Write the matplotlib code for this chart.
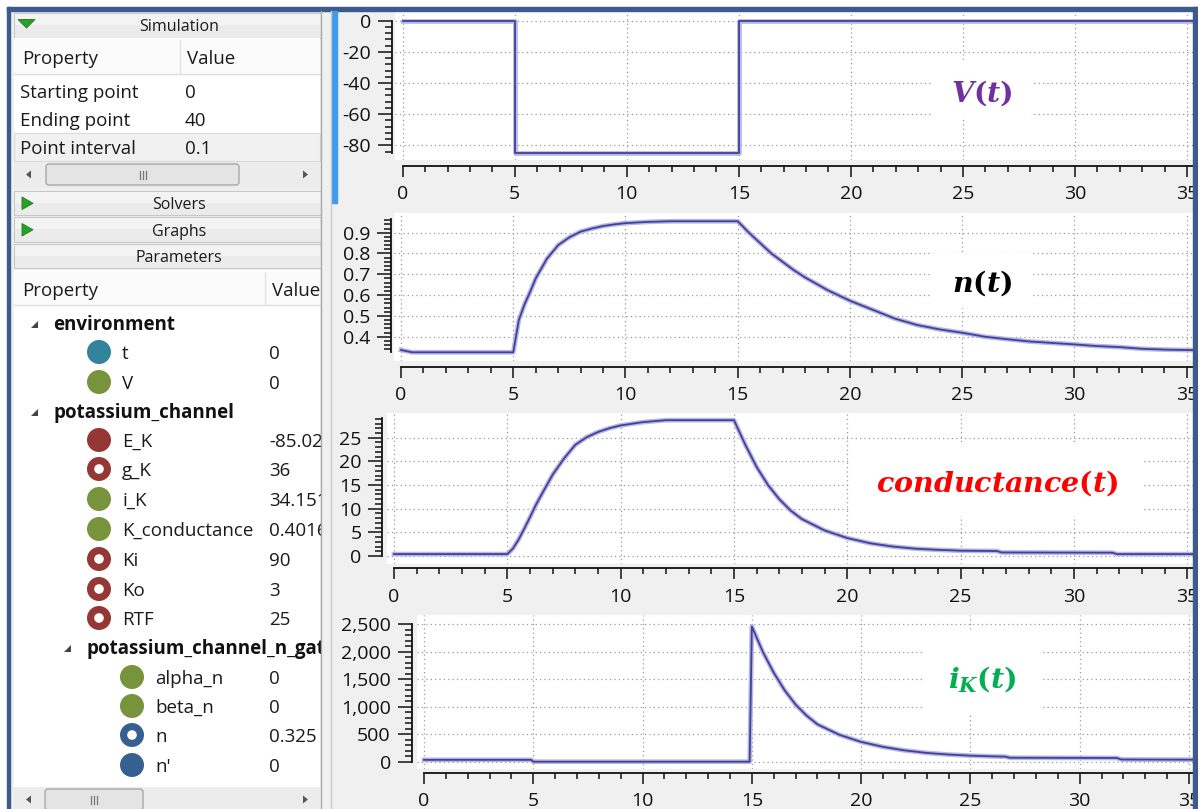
import numpy as np
import matplotlib.pyplot as plt
from matplotlib.patches import Rectangle, Circle, Polygon, FancyBboxPatch
from matplotlib.ticker import FixedLocator, StrMethodFormatter

plt.rcParams['font.family'] = ['Open Sans', 'DejaVu Sans']
plt.rcParams['axes.unicode_minus'] = False
plt.rcParams['mathtext.fontset'] = 'custom'
plt.rcParams['mathtext.it'] = 'DejaVu Serif:italic:bold'
plt.rcParams['mathtext.rm'] = 'DejaVu Serif:bold'
plt.rcParams['mathtext.bf'] = 'DejaVu Serif:bold'

W, H = 1198, 809  # picture size in pixels

# ---- left panel contents ----
sim_props = ["Starting point", "Ending point", "Point interval"]
sim_values = ["0", "40", "0.1"]

groups = ["environment", "potassium_channel", "potassium_channel_n_gate"]
param_names = ["t", "V",
               "E_K", "g_K", "i_K", "K_conductance", "Ki", "Ko", "RTF",
               "alpha_n", "beta_n", "n", "n'"]
param_values = ["0", "0",
                "-85.02", "36", "34.151", "0.4016", "90", "3", "25",
                "0", "0", "0.325", "0"]
param_group = [0, 0, 1, 1, 1, 1, 1, 1, 1, 2, 2, 2, 2]
param_colors = ["#31849b", "#77933c",
                "#953735", "#953735", "#77933c", "#77933c", "#953735", "#953735", "#953735",
                "#77933c", "#77933c", "#376092", "#376092"]
param_ring = [False, False,
              False, True, False, False, True, True, True,
              False, False, True, False]

# ---- simulated traces ----
t_v = [0, 5, 5, 15, 15, 40]
v_vals = [0, 0, -85, -85, 0, 0]

t_n = [0, 0.5, 5, 5.25, 5.5, 5.75, 6, 6.5, 7, 7.5, 8, 8.5, 9, 9.5, 10, 11, 12, 15,
       15.5, 16, 16.5, 17, 17.5, 18, 19, 20, 21, 22, 23, 24, 25, 26, 27, 28, 29,
       30, 31, 32, 33, 34, 35, 36]
n_vals = [0.336, 0.325, 0.325, 0.48, 0.555, 0.615, 0.68, 0.775, 0.84, 0.878, 0.905,
          0.92, 0.932, 0.94, 0.946, 0.952, 0.955, 0.955,
          0.90, 0.85, 0.80, 0.76, 0.72, 0.685, 0.624, 0.573, 0.53, 0.487, 0.456,
          0.435, 0.419, 0.40, 0.388, 0.377, 0.37, 0.363, 0.355, 0.35, 0.342, 0.338,
          0.336, 0.335]

t_g = [0, 5, 5.25, 5.5, 5.75, 6, 6.25, 6.5, 7, 7.5, 8, 8.5, 9, 9.5, 10, 11, 12, 15,
       15.5, 16, 16.5, 17, 17.5, 18, 19, 20, 21, 22, 23, 24, 25, 26.6, 26.8, 31.7,
       31.9, 36]
g_vals = [0.4, 0.4, 1.6, 3.5, 5.8, 8.2, 10.7, 12.9, 17.2, 20.6, 23.5, 25.1, 26.2,
          27.0, 27.6, 28.3, 28.7, 28.7,
          23.5, 18.8, 15.0, 12.0, 9.6, 7.8, 5.4, 3.8, 2.7, 2.0, 1.55, 1.3, 1.12,
          1.05, 0.75, 0.7, 0.4, 0.4]

t_i = [0, 4.9, 5, 14.9, 15, 15.5, 16, 16.5, 17, 17.5, 18, 19, 20, 21, 22, 23, 24,
       25, 26, 26.6, 26.8, 31.7, 31.9, 36]
i_vals = [34, 34, 0, 0, 2460, 2000, 1620, 1300, 1040, 840, 680, 490, 360, 270, 205,
          160, 130, 110, 97, 92, 72, 68, 40, 36]

fig = plt.figure(figsize=(W / 100, H / 100), dpi=100)
fig.patch.set_facecolor('#f0f0f0')


def px_rect(x0, y0, x1, y1):
    return [x0 / W, 1 - y1 / H, (x1 - x0) / W, (y1 - y0) / H]


def ticks_in(lo, hi, step):
    # tick positions limited to the scale range, like the Qwt scale does
    first = np.ceil(lo / step - 1e-9) * step
    return np.round(np.arange(first, hi + step * 1e-6, step), 10) + 0.0


def add_plot(box, tx, ty, yaxis_px, xaxis_px, ybounds, t, y, ymajor, yminor, fmt):
    x0, y0, x1, y1 = box
    ax = fig.add_axes(px_rect(*box))
    ax.set_facecolor('white')
    sx = (tx[1] - tx[0]) / 35
    ax.set_xlim((x0 - tx[0]) / sx, (x1 - tx[0]) / sx)
    (va, pa), (vb, pb) = ty
    sy = (pb - pa) / (vb - va)
    ax.set_ylim(va + (y1 - pa) / sy, va + (y0 - pa) / sy)

    for s in ['top', 'right']:
        ax.spines[s].set_visible(False)
    ax.spines['left'].set_position(('outward', (x0 - yaxis_px) * 0.72))
    ax.spines['bottom'].set_position(('outward', (xaxis_px - y1) * 0.72))
    ax.spines['left'].set_bounds(*ybounds)
    ax.spines['bottom'].set_bounds(0, ax.get_xlim()[1])
    for s in ['left', 'bottom']:
        ax.spines[s].set_linewidth(1.3)
        ax.spines[s].set_color('#111111')

    xr = ax.get_xlim()[1]
    ax.xaxis.set_major_locator(FixedLocator(ticks_in(0, xr, 5)))
    ax.xaxis.set_minor_locator(FixedLocator(ticks_in(0, xr, 1)))
    ax.yaxis.set_major_locator(FixedLocator(ticks_in(ybounds[0], ybounds[1], ymajor)))
    ax.yaxis.set_minor_locator(FixedLocator(ticks_in(ybounds[0], ybounds[1], yminor)))
    ax.xaxis.set_major_formatter(StrMethodFormatter('{x:.0f}'))
    ax.yaxis.set_major_formatter(StrMethodFormatter(fmt))
    ax.tick_params(axis='y', which='major', length=10, width=1.1, pad=5,
                   labelsize=14, labelcolor='#111111', color='#111111')
    ax.tick_params(axis='y', which='minor', length=5, width=1.1, color='#111111')
    ax.tick_params(axis='x', which='major', length=8, width=1.1, pad=6,
                   labelsize=14, labelcolor='#111111', color='#111111')
    ax.tick_params(axis='x', which='minor', length=4, width=1.1, color='#111111')
    ax.grid(True, which='major', color='#9a9a9a', linestyle=(0, (1, 2.5)), linewidth=0.9)

    ax.plot(t, y, color='#b8b8e0', lw=3.4, solid_joinstyle='round', zorder=3)
    ax.plot(t, y, color='#40409e', lw=1.3, solid_joinstyle='round', zorder=4)
    return ax


add_plot((395, 12, 1193, 160), (402.7, 1187), ((0, 20.7), (-80, 145.3)),
         391.7, 166, (-85, 0), t_v, v_vals, 20, 4, '{x:.0f}')
add_plot((394, 212.7, 1193, 360.7), (401, 1186.7), ((0.9, 232.7), (0.4, 336.7)),
         391, 366.7, (0.325, 0.965), t_n, n_vals, 0.1, 0.02, '{x:.1f}')
add_plot((387.3, 412.7, 1193, 564), (394, 1187.3), ((25, 437.7), (0, 556)),
         382.3, 568.3, (0, 29.1), t_g, g_vals, 5, 1, '{x:.0f}')
add_plot((417.3, 615, 1193, 769), (424, 1189), ((2500, 624.3), (0, 761.7)),
         411.7, 772.7, (0, 2510), t_i, i_vals, 500, 100, '{x:,.0f}')

# ---- left panel (pixel coordinates) ----
pnl = fig.add_axes(px_rect(10, 11, 321, 809), zorder=5)
pnl.set_xlim(10, 321)
pnl.set_ylim(809, 11)
pnl.axis('off')
pnl.add_patch(Rectangle((10, 11), 311, 798, color='#f0f0f0', zorder=0))

FS = 13.5
DY = 2  # text centre offset


def header(y0, y1, label, arrow=None):
    pnl.add_patch(Rectangle((13.5, y0), 307, y1 - y0, fc='#ebebeb', ec='#c8c8c8', lw=0.8))
    pnl.add_patch(Rectangle((14.5, y0 + 1), 305, (y1 - y0) * 0.45, fc='#f3f3f3', ec='none'))
    pnl.text(179, (y0 + y1) / 2 + DY, label, ha='center', va='center', fontsize=11.5,
             color='#1a1a1a', clip_on=True)
    if arrow == 'down':
        pnl.add_patch(Polygon([(18, y0 + 7), (35, y0 + 7), (26.5, y0 + 15.5)],
                              fc='#2aa02a', ec='#1b7a1b', lw=0.6))
    elif arrow == 'right':
        pnl.add_patch(Polygon([(22, y0 + 6.5), (22, y0 + 19), (33, y0 + 12.8)],
                              fc='#2aa02a', ec='#1b7a1b', lw=0.6))


def table_head(y0, y1, xsep, xval):
    pnl.add_patch(Rectangle((14, y0), 306, y1 - y0, fc='#fbfbfb', ec='none'))
    pnl.plot([14, 320], [y1, y1], color='#dedede', lw=1)
    pnl.plot([xsep, xsep], [y0 + 1, y1 - 1], color='#e3e3e3', lw=1)
    ym = (y0 + y1) / 2 + DY
    pnl.text(22, ym, "Property", va='center', fontsize=FS, color='#1a1a1a', clip_on=True)
    pnl.text(xval, ym, "Value", va='center', fontsize=FS, color='#1a1a1a', clip_on=True)


def scrollbar(y0, y1, th0, th1):
    pnl.add_patch(Rectangle((14, y0), 306, y1 - y0, fc='#ececec', ec='none'))
    ym = y0 + 12.5
    pnl.add_patch(Polygon([(26, ym), (31, ym - 4), (31, ym + 4)], fc='#555555', ec='none'))
    pnl.add_patch(Polygon([(303, ym - 4), (303, ym + 4), (308, ym)], fc='#555555', ec='none'))
    pnl.add_patch(FancyBboxPatch((th0, y0 + 2), th1 - th0, 21,
                                 boxstyle='round,pad=0,rounding_size=3',
                                 fc='#e4e4e4', ec='#a2a2a2', lw=0.9))
    gx = (th0 + th1) / 2
    for dx in (-3, 0, 3):
        pnl.plot([gx + dx, gx + dx], [ym - 4, ym + 4], color='#777777', lw=0.9)


# Simulation section
header(12.5, 37.5, "Simulation", 'down')
pnl.add_patch(Rectangle((14, 38), 306, 124, fc='white', ec='none'))
table_head(39, 74, 180, 187)
pnl.add_patch(Rectangle((14, 133), 306, 28, fc='#f1f1f1', ec='#dadada', lw=0.8))
for k, (name, val) in enumerate(zip(sim_props, sim_values)):
    yy = 91 + 28 * k + DY
    pnl.text(20, yy, name, va='center', fontsize=FS, color='#1a1a1a', clip_on=True)
    pnl.text(185, yy, val, va='center', fontsize=FS, color='#1a1a1a', clip_on=True)
scrollbar(162, 188, 46, 239)

header(190.5, 215, "Solvers", 'right')
header(217, 242, "Graphs", 'right')
header(243.5, 268, "Parameters")

# Parameters tree
pnl.add_patch(Rectangle((14, 270), 306, 517, fc='white', ec='none'))
table_head(272, 305, 265, 272)


def expander(x, y):
    pnl.add_patch(Polygon([(x - 3.5, y + 3.5), (x + 3.5, y + 3.5), (x + 3.5, y - 3.5)],
                          fc='#444444', ec='none'))


group_y = [323, 411, 647]
group_x = [53, 53, 86]
for g, name in enumerate(groups):
    expander(group_x[g] - 19, group_y[g] + 1)
    pnl.text(group_x[g], group_y[g] + DY, name, va='center', fontsize=FS, fontweight='bold',
             color='#111111', clip_on=True)

row_y = [352, 382, 440, 469, 499, 529, 559, 589, 618, 677, 706, 735, 765]
for k, name in enumerate(param_names):
    yy = row_y[k]
    cx = 99 if param_group[k] < 2 else 132
    pnl.add_patch(Circle((cx, yy), 12, fc=param_colors[k], ec='none'))
    if param_ring[k]:
        pnl.add_patch(Circle((cx, yy), 4.8, fc='white', ec='none'))
    pnl.text(cx + 23, yy + DY, name, va='center', fontsize=FS, color='#1a1a1a', clip_on=True)
    pnl.text(269, yy + DY, param_values[k], va='center', fontsize=FS, color='#1a1a1a',
             clip_on=True)

scrollbar(787, 812, 45, 143)

# ---- overlay: frame, splitter, equation labels ----
ui = fig.add_axes([0, 0, 1, 1], zorder=10)
ui.set_xlim(0, W)
ui.set_ylim(H, 0)
ui.axis('off')
ui.add_patch(Rectangle((0, 0), W, 7, color='white'))
ui.add_patch(Rectangle((0, 0), 7, H, color='white'))
ui.add_patch(Rectangle((7, 7), W - 7, 4, color='#3c5a8c'))
ui.add_patch(Rectangle((7, 7), 3, H - 7, color='#3c5a8c'))
ui.add_patch(Rectangle((1192.5, 7), W - 1192.5, H - 7, color='#3c5a8c'))
ui.plot([321, 321], [11, H], color='#a9a9a9', lw=1)
ui.plot([330.8, 330.8], [11, H], color='#c9c9c9', lw=1)
ui.add_patch(Rectangle((332, 11), 5, 192, color='#3d9cf0'))

labels = [r'$V(t)$', r'$n(t)$', r'$conductance(t)$', r'$i_K(t)$']
label_colors = ['#7030a0', '#000000', '#ff0000', '#00b050']
label_pos = [(982, 94), (982, 284), (997, 484), (982, 679)]
label_box = [(932, 63, 1030, 118), (932, 253, 1030, 307),
             (850, 445, 1142, 515), (925, 630, 1040, 712)]
for s, c, (lx, ly), (bx0, by0, bx1, by1) in zip(labels, label_colors, label_pos, label_box):
    ui.add_patch(Rectangle((bx0, by0), bx1 - bx0, by1 - by0, color='white'))
    ui.text(lx, ly, s, color=c, fontsize=20.5, ha='center', va='center')

fig.savefig('out.png', dpi=100)
